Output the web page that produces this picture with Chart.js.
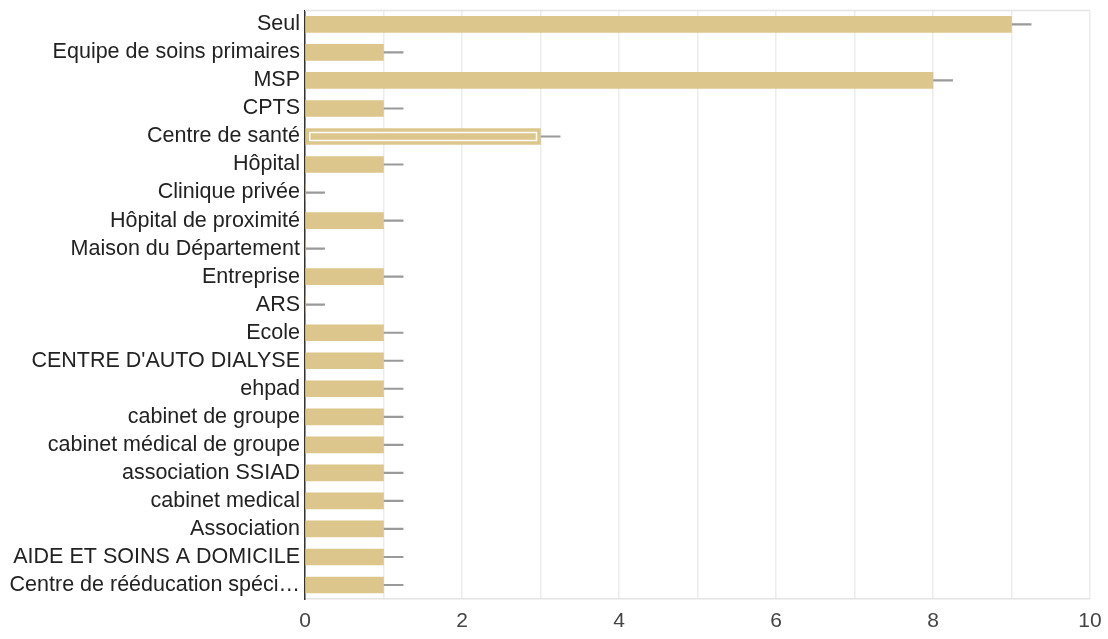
<!DOCTYPE html>
<html>
<head>
<meta charset="utf-8">
<script src="https://cdn.jsdelivr.net/npm/chart.js@4.4.1/dist/chart.umd.min.js"></script>
<style>
html,body{margin:0;padding:0;background:#fff;}
#wrap{width:1108px;height:639px;}
</style>
</head>
<body>
<div id="wrap"><canvas id="c" width="1108" height="639"></canvas></div>
<script>
const categories = [
  "Seul","Equipe de soins primaires","MSP","CPTS","Centre de santé","Hôpital",
  "Clinique privée","Hôpital de proximité","Maison du Département","Entreprise","ARS",
  "Ecole","CENTRE D'AUTO DIALYSE","ehpad","cabinet de groupe","cabinet médical de groupe",
  "association SSIAD","cabinet medical","Association","AIDE ET SOINS A DOMICILE",
  "Centre de rééducation spécialisé"
];
const counts = [9,1,8,1,3,1,0,1,0,1,0,1,1,1,1,1,1,1,1,1,1];
const whiskerLength = [0.25,0.25,0.25,0.25,0.25,0.25,0.25,0.25,0.25,0.25,0.25,0.25,0.25,0.25,0.25,0.25,0.25,0.25,0.25,0.25,0.25];
const highlightedIndex = [4];
const xTickLabels = ["0","2","4","6","8","10"];

const FONT = "'Liberation Sans', Arial, Helvetica, sans-serif";
const LABEL_SIZE = 21.5;
const barColor = '#DDC68B';

function truncate(ctx, text, maxW){
  ctx.font = LABEL_SIZE + "px " + FONT;
  if (ctx.measureText(text).width <= maxW) return text;
  let t = text;
  while (t.length > 1 && ctx.measureText(t + '…').width > maxW) t = t.slice(0,-1);
  return t + '…';
}
const mctx = document.createElement('canvas').getContext('2d');
const shownLabels = categories.map(l => truncate(mctx, l, 293));

const framePlugin = {
  id: 'frame',
  beforeDatasetsDraw(chart){
    const {ctx, chartArea:a} = chart;
    ctx.save();
    ctx.strokeStyle = '#e4e4e4';
    ctx.lineWidth = 1.5;
    ctx.beginPath();
    ctx.moveTo(a.left, a.top); ctx.lineTo(a.right, a.top);
    ctx.stroke();
    ctx.restore();
  },
  afterDatasetsDraw(chart){
    const {ctx} = chart;
    const meta = chart.getDatasetMeta(0);
    ctx.save();
    ctx.strokeStyle = '#ffffff';
    ctx.lineWidth = 1.5;
    highlightedIndex.forEach(i => {
      const el = meta.data[i];
      const x0 = Math.min(el.base, el.x), x1 = Math.max(el.base, el.x);
      const y0 = el.y - el.height/2, y1 = el.y + el.height/2;
      ctx.strokeRect(x0 + 4, y0 + 4, (x1 - x0) - 8, (y1 - y0) - 8);
    });
    ctx.restore();
  }
};

new Chart(document.getElementById('c'), {
  type: 'bar',
  data: {
    labels: shownLabels,
    datasets: [
      {
        data: counts,
        backgroundColor: barColor,
        barThickness: 16,
        grouped: false,
        order: 1
      },
      {
        data: counts.map((v,i) => [v, v + whiskerLength[i]]),
        backgroundColor: '#9a9a9a',
        barThickness: 1.5,
        grouped: false,
        order: 2
      }
    ]
  },
  options: {
    indexAxis: 'y',
    responsive: false,
    animation: false,
    layout: { padding: { left: 0, right: 18, top: 7, bottom: 0 } },
    plugins: { legend: { display: false }, tooltip: { enabled: false } },
    scales: {
      x: {
        min: 0, max: 10,
        ticks: {
          stepSize: 1,
          autoSkip: false,
          maxRotation: 0,
          color: '#444',
          font: { family: FONT, size: 21 },
          padding: 10,
          callback: (v) => (v % 2 === 0 ? xTickLabels[v/2] : '')
        },
        grid: { color: '#ececec', lineWidth: 1.5, drawTicks: false },
        border: { color: '#e4e4e4', width: 1.5 },
        afterFit(s){ s.height = 40; s.paddingRight = 0; s.paddingLeft = 0; }
      },
      y: {
        ticks: {
          color: '#222',
          font: { family: FONT, size: LABEL_SIZE, lineHeight: 0.5 },
          padding: 5,
          autoSkip: false
        },
        grid: { display: false, drawTicks: false, tickLength: 0 },
        border: { color: '#333', width: 1.5 },
        afterFit(s){ s.width = 305; }
      }
    }
  },
  plugins: [framePlugin]
});
</script>
</body>
</html>
